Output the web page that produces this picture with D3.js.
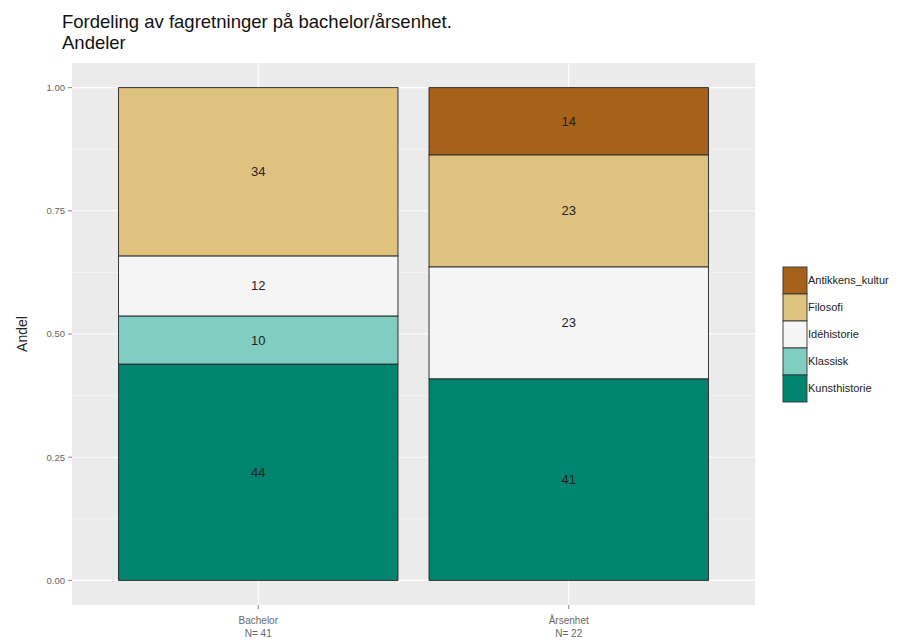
<!DOCTYPE html>
<html>
<head>
<meta charset="utf-8">
<script src="https://cdn.jsdelivr.net/npm/d3@7"></script>
<style>
  body { margin: 0; background: #fff; }
  svg { display: block; font-family: "Liberation Sans", Arial, sans-serif; }
</style>
</head>
<body>
<svg id="chart" width="917" height="643"></svg>
<script>
// ---- data ----
const groups = ["Bachelor", "Årsenhet"];
const groupN = [41, 22];
const subjects = ["Kunsthistorie", "Klassisk", "Idéhistorie", "Filosofi", "Antikkens_kultur"]; // bottom -> top
const legendOrder = ["Antikkens_kultur", "Filosofi", "Idéhistorie", "Klassisk", "Kunsthistorie"];
const colors = ["#018571", "#80CDC1", "#F5F5F5", "#DFC27D", "#A6611A"];
// counts per subject (same order as subjects)
const bachelorCounts = [18, 4, 5, 14, 0];
const arsenhetCounts = [9, 0, 5, 5, 3];
const yTicks = [0, 0.25, 0.5, 0.75, 1];
const yMinor = [0.125, 0.375, 0.625, 0.875];

const countsByGroup = [bachelorCounts, arsenhetCounts];

const svg = d3.select("#chart");
const panel = { left: 72, right: 755, top: 63, bottom: 605 };

const y = d3.scaleLinear().domain([-0.05, 1.05]).range([panel.bottom, panel.top]);
// ggplot discrete: positions 1..2, expand 0.6 each side, bar width 0.9
const x = d3.scaleLinear().domain([0.4, 2.6]).range([panel.left, panel.right]);
const center = g => x(groups.indexOf(g) + 1);
const barW = x(1.9) - x(1);

const color = d3.scaleOrdinal().domain(subjects).range(colors);

// panel background
svg.append("rect").attr("x", panel.left).attr("y", panel.top)
  .attr("width", panel.right - panel.left).attr("height", panel.bottom - panel.top)
  .attr("fill", "#EBEBEB");

// minor grid
svg.selectAll(".minor").data(yMinor).enter().append("line")
  .attr("x1", panel.left).attr("x2", panel.right)
  .attr("y1", d => y(d)).attr("y2", d => y(d))
  .attr("stroke", "#fff").attr("stroke-width", 0.6).attr("opacity", 0.8);
// major grid
svg.selectAll(".major").data(yTicks).enter().append("line")
  .attr("x1", panel.left).attr("x2", panel.right)
  .attr("y1", d => y(d)).attr("y2", d => y(d))
  .attr("stroke", "#fff").attr("stroke-width", 1.1);
svg.selectAll(".vmajor").data(groups).enter().append("line")
  .attr("x1", d => center(d)).attr("x2", d => center(d))
  .attr("y1", panel.top).attr("y2", panel.bottom)
  .attr("stroke", "#fff").attr("stroke-width", 1.1);

// stacked data
const stackData = groups.map((g, gi) => {
  const counts = countsByGroup[gi];
  const total = d3.sum(counts);
  const row = { group: g };
  subjects.forEach((s, si) => row[s] = counts[si] / total);
  return row;
});
const series = d3.stack().keys(subjects)(stackData);

const layers = svg.append("g");
series.forEach(ser => {
  ser.forEach(d => {
    if (d[1] - d[0] <= 0) return;
    const g = d.data.group;
    layers.append("rect")
      .attr("x", center(g) - barW / 2)
      .attr("width", barW)
      .attr("y", y(d[1]))
      .attr("height", y(d[0]) - y(d[1]))
      .attr("fill", color(ser.key))
      .attr("stroke", "#222")
      .attr("stroke-width", 0.9);
  });
});
series.forEach(ser => {
  ser.forEach(d => {
    const v = d[1] - d[0];
    if (v <= 0) return;
    const g = d.data.group;
    layers.append("text")
      .attr("x", center(g))
      .attr("y", y((d[0] + d[1]) / 2))
      .attr("dy", "0.35em")
      .attr("text-anchor", "middle")
      .attr("font-size", 13)
      .attr("fill", "#222")
      .text(Math.round(v * 100));
  });
});

// y axis
const yAxis = svg.append("g");
yTicks.forEach(t => {
  yAxis.append("line").attr("x1", panel.left - 4).attr("x2", panel.left)
    .attr("y1", y(t)).attr("y2", y(t)).attr("stroke", "#666").attr("stroke-width", 0.8);
  yAxis.append("text").attr("x", panel.left - 7).attr("y", y(t)).attr("dy", "0.35em")
    .attr("text-anchor", "end").attr("font-size", 9.5).attr("fill", "#666")
    .text(d3.format(".2f")(t));
});
// y title
svg.append("text")
  .attr("transform", `translate(27,${(panel.top + panel.bottom) / 2}) rotate(-90)`)
  .attr("text-anchor", "middle").attr("font-size", 14).attr("fill", "#222")
  .text("Andel");

// x axis
groups.forEach((g, gi) => {
  const cx = center(g);
  svg.append("line").attr("x1", cx).attr("x2", cx)
    .attr("y1", panel.bottom).attr("y2", panel.bottom + 4).attr("stroke", "#666").attr("stroke-width", 0.8);
  const t = svg.append("text").attr("text-anchor", "middle").attr("font-size", 10).attr("fill", "#666");
  t.append("tspan").attr("x", cx).attr("y", 624).text(g);
  t.append("tspan").attr("x", cx).attr("y", 637).text("N= " + groupN[gi]);
});

// title
const title = svg.append("text").attr("font-size", 18.5).attr("fill", "#111");
title.append("tspan").attr("x", 62).attr("y", 28).text("Fordeling av fagretninger på bachelor/årsenhet.");
title.append("tspan").attr("x", 62).attr("y", 49).text("Andeler");

// legend
const leg = svg.append("g");
const keyX = 783, keyY = 267, keyW = 24, keyH = 27;
legendOrder.forEach((s, i) => {
  leg.append("rect").attr("x", keyX).attr("y", keyY + i * keyH)
    .attr("width", keyW).attr("height", keyH)
    .attr("fill", color(s)).attr("stroke", "#333").attr("stroke-width", 0.9);
  leg.append("text").attr("x", keyX + keyW + 1).attr("y", keyY + i * keyH + keyH / 2)
    .attr("dy", "0.35em").attr("font-size", 11).attr("fill", "#222").text(s);
});
</script>
</body>
</html>
